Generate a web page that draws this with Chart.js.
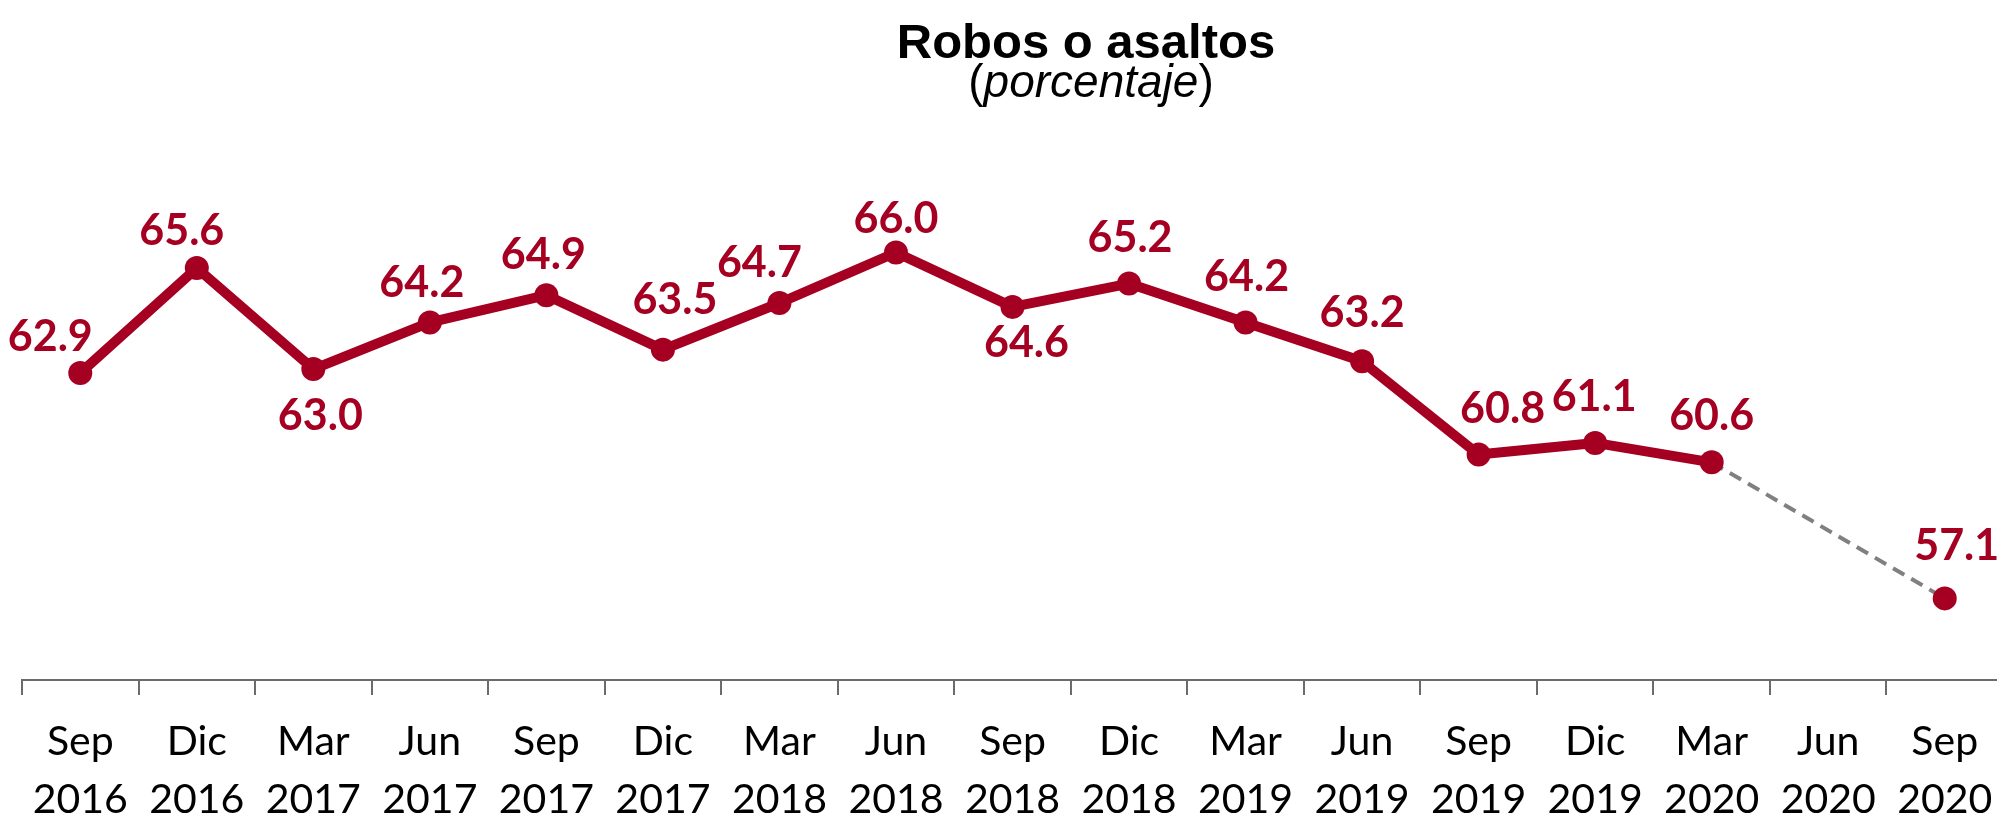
<!DOCTYPE html>
<html>
<head>
<meta charset="utf-8">
<script src="https://cdn.jsdelivr.net/npm/chart.js@4/dist/chart.umd.min.js"></script>
<style>
  html, body { margin: 0; padding: 0; background: #fff; overflow: hidden; }
  #wrap { width: 2003px; height: 836px; }
</style>
</head>
<body>
<div id="wrap"><canvas id="myChart"></canvas></div>
<script>
const months = ["Sep", "Dic", "Mar", "Jun", "Sep", "Dic", "Mar", "Jun", "Sep", "Dic", "Mar", "Jun", "Sep", "Dic", "Mar", "Jun", "Sep"];
const years = ["2016", "2016", "2017", "2017", "2017", "2017", "2018", "2018", "2018", "2018", "2019", "2019", "2019", "2019", "2020", "2020", "2020"];
const values = [62.9, 65.6, 63.0, 64.2, 64.9, 63.5, 64.7, 66.0, 64.6, 65.2, 64.2, 63.2, 60.8, 61.1, 60.6, null, 57.1];

const red = "#a50021";
const grey = "#808080";
const axisGrey = "#6b6b6b";

// label placement around each point: [dx, dy of cap middle]
const labelOffsets = [
  [-30, -37], [-15, -38], [7, 46], [-8, -40], [-3, -41], [12, -51], [-20, -41], [0, -34],
  [14, 35], [1, -47], [1, -46], [0, -49], [24, -47], [-1, -47], [0, -47], [0, 0], [12, -53],
];

const valueLabels = {
  id: "valueLabels",
  afterDatasetsDraw(chart) {
    const ctx = chart.ctx;
    const meta = chart.getDatasetMeta(0);
    ctx.save();
    ctx.font = "bold 43px Lato";
    ctx.fillStyle = red;
    ctx.textAlign = "center";
    ctx.textBaseline = "alphabetic";
    meta.data.forEach((pt, i) => {
      if (values[i] == null) return;
      const [dx, dy] = labelOffsets[i];
      ctx.fillText(values[i].toFixed(1), pt.x + dx, pt.y + dy + 15);
    });
    ctx.restore();
  },
};

const titles = {
  id: "titles",
  afterDraw(chart) {
    const ctx = chart.ctx;
    ctx.save();
    ctx.fillStyle = "#000";
    ctx.textBaseline = "alphabetic";
    ctx.textAlign = "center";
    ctx.font = 'bold 49px "Liberation Sans"';
    ctx.fillText("Robos o asaltos", 1086, 58);

    const up = '46px "Liberation Sans"';
    const it = 'italic 46px "Liberation Sans"';
    ctx.font = up;
    const wp = ctx.measureText("(").width;
    ctx.font = it;
    const wt = ctx.measureText("porcentaje").width;
    let x = 1091 - (wp * 2 + wt) / 2;
    ctx.textAlign = "left";
    ctx.font = up;
    ctx.fillText("(", x, 97);
    x += wp;
    ctx.font = it;
    ctx.fillText("porcentaje", x, 97);
    x += wt;
    ctx.font = up;
    ctx.fillText(")", x, 97);
    ctx.restore();
  },
};

// the segment that spans the missing Jun 2020 value is drawn grey and dashed
const gap = (c, value) => (values[c.p0DataIndex] == null ? value : undefined);

const ctx = document.getElementById("myChart").getContext("2d");
const myChart = new Chart(ctx, {
  type: "line",
  data: {
    labels: months.map((m, i) => [m, years[i]]),
    datasets: [
      {
        data: values,
        borderColor: red,
        backgroundColor: red,
        borderWidth: 10,
        borderJoinStyle: "round",
        pointRadius: 12,
        pointHoverRadius: 12,
        pointBackgroundColor: red,
        pointBorderWidth: 0,
        spanGaps: true,
        clip: false,
        segment: {
          borderColor: (c) => gap(c, grey),
          borderDash: (c) => gap(c, [13, 8]),
          borderWidth: (c) => gap(c, 4),
        },
      },
    ],
  },
  options: {
    responsive: true,
    maintainAspectRatio: false,
    animation: false,
    layout: { autoPadding: false, padding: { top: 97, left: 22, right: 0, bottom: 0 } },
    plugins: {
      legend: { display: false },
      tooltip: { enabled: false },
    },
    scales: {
      x: {
        offset: true,
        grid: {
          offset: true,
          drawOnChartArea: false,
          drawTicks: true,
          tickLength: 15,
          color: axisGrey,
          lineWidth: 2,
        },
        border: { color: axisGrey, width: 2 },
        ticks: {
          color: "#000",
          padding: 18,
          maxRotation: 0,
          autoSkip: false,
          font: { family: "Lato", size: 41, lineHeight: "58px" },
        },
        afterFit(scale) {
          scale.height = 156;
          scale.paddingLeft = 0;
          scale.paddingRight = 0;
        },
      },
      y: {
        display: false,
        min: 55,
        max: 70,
      },
    },
  },
  plugins: [valueLabels, titles],
});
</script>
</body>
</html>
